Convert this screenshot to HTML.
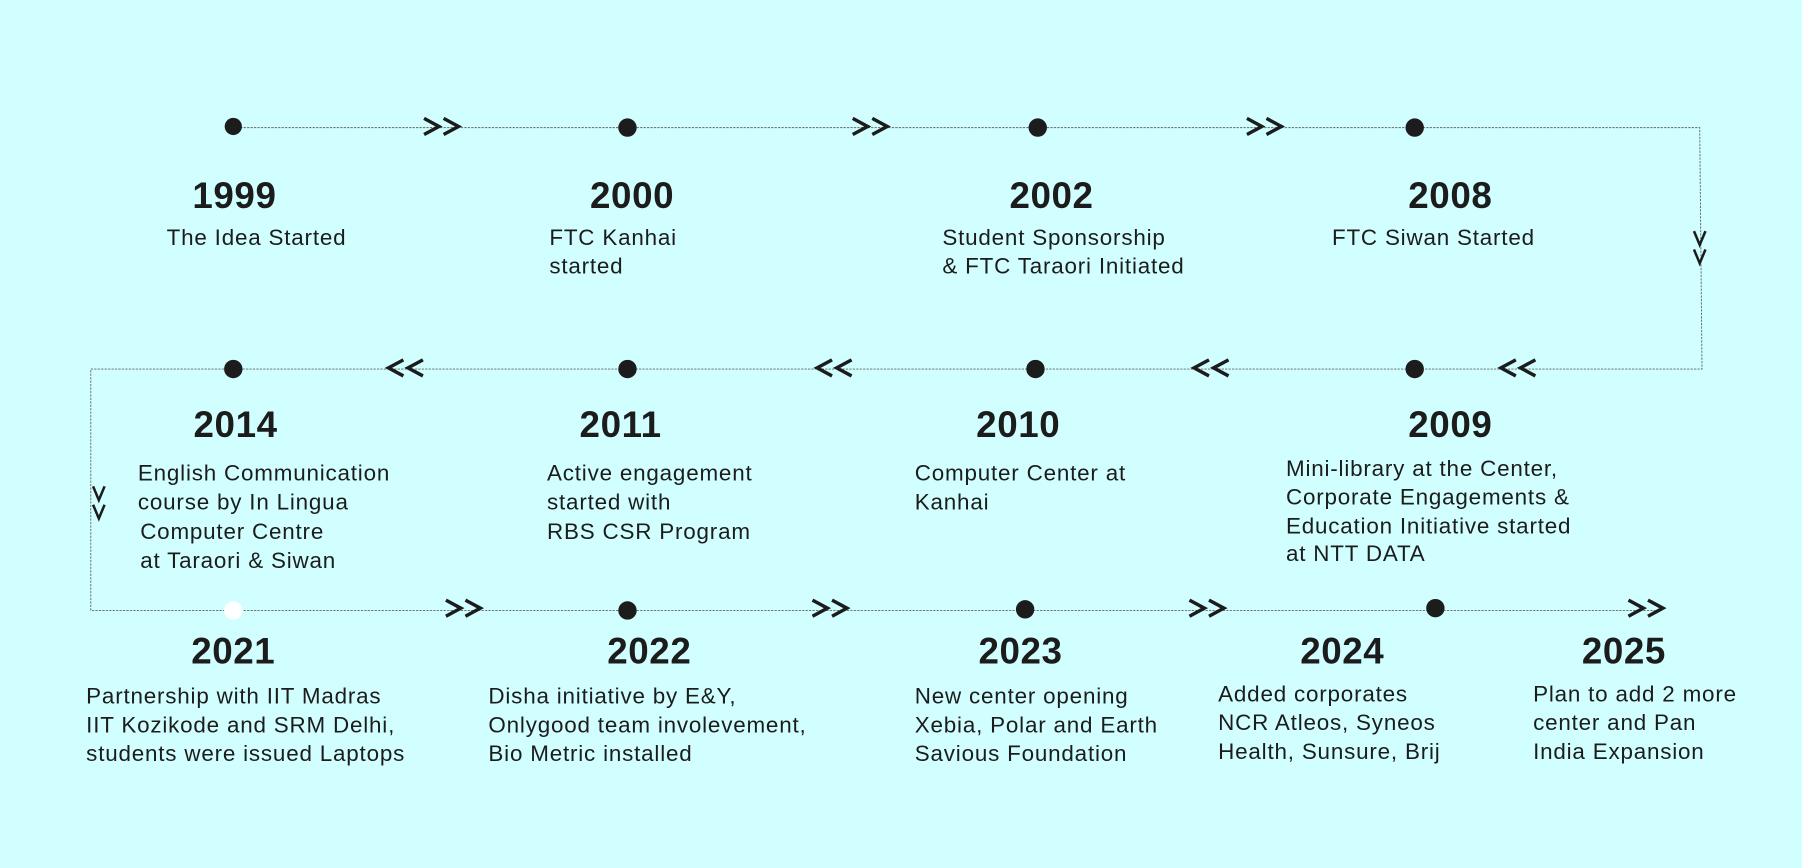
<!DOCTYPE html>
<html><head><meta charset="utf-8"><style>
html,body{margin:0;padding:0;background:#d1ffff;}
svg{display:block;}
.y{font-family:"Liberation Sans",sans-serif;font-weight:bold;font-size:32px;letter-spacing:0.5px;fill:#1c1c1c;text-anchor:middle;}
.d{font-family:"Liberation Sans",sans-serif;font-size:19.5px;letter-spacing:0.7px;fill:#1c1c1c;}
</style></head><body>
<svg width="1802" height="868" viewBox="0 0 1568 755" preserveAspectRatio="none" xmlns="http://www.w3.org/2000/svg">
<defs>
<g id="r"><path d="M-16,-7 L-3,0 L-16,7 M1,-7 L14,0 L1,7" fill="none" stroke="#1c1c1c" stroke-width="3"/></g>
<g id="l"><path d="M16,-7 L3,0 L16,7 M-1,-7 L-14,0 L-1,7" fill="none" stroke="#1c1c1c" stroke-width="3"/></g>
<g id="v"><path d="M-5,-14 L0,-2 L5,-14 M-5,2 L0,14 L5,2" fill="none" stroke="#1c1c1c" stroke-width="2.2"/></g>
</defs>
<rect width="1568" height="755" fill="#d1ffff"/>
<g stroke="#666" stroke-width="0.8" stroke-dasharray="2,1" fill="none">
<polyline points="203,111 1479,111 1481,321 79,321 79,531 1440,531"/>
</g>
<g fill="#1c1c1c">
<circle cx="203" cy="110" r="7.5"/><circle cx="546" cy="111" r="8"/><circle cx="903" cy="111" r="8"/><circle cx="1231" cy="111" r="8"/>
<circle cx="203" cy="321" r="8"/><circle cx="546" cy="321" r="8"/><circle cx="901" cy="321" r="8"/><circle cx="1231" cy="321" r="8"/>
<circle cx="546" cy="531" r="8"/><circle cx="892" cy="530" r="8"/><circle cx="1249" cy="529" r="8"/>
</g>
<circle cx="203" cy="531" r="8" fill="#fff"/>
<use href="#r" x="385" y="110"/><use href="#r" x="758" y="110"/><use href="#r" x="1101" y="110"/>
<use href="#l" x="352" y="320"/><use href="#l" x="725" y="320"/><use href="#l" x="1053" y="320"/><use href="#l" x="1320" y="320"/>
<use href="#r" x="404" y="529"/><use href="#r" x="723" y="529"/><use href="#r" x="1051" y="529"/><use href="#r" x="1433" y="529"/>
<use href="#v" x="1479" y="215"/>
<use href="#v" x="86" y="437"/>
<g class="y">
<text x="204" y="181">1999</text><text x="550" y="181">2000</text><text x="915" y="181">2002</text><text x="1262" y="181">2008</text>
<text x="205" y="380">2014</text><text x="540" y="380">2011</text><text x="886" y="380">2010</text><text x="1262" y="380">2009</text>
<text x="203" y="577">2021</text><text x="565" y="577">2022</text><text x="888" y="577">2023</text><text x="1168" y="577">2024</text><text x="1413" y="577">2025</text>
</g>
<g class="d">
<text x="145" y="213">The Idea Started</text>
<text x="478" y="213">FTC Kanhai</text><text x="478" y="238">started</text>
<text x="820" y="213">Student Sponsorship</text><text x="820" y="238">&amp; FTC Taraori Initiated</text>
<text x="1159" y="213">FTC Siwan Started</text>
<text x="120" y="418">English Communication</text><text x="120" y="443">course by In Lingua</text><text x="122" y="469">Computer Centre</text><text x="122" y="494">at Taraori &amp; Siwan</text>
<text x="476" y="418">Active engagement</text><text x="476" y="443">started with</text><text x="476" y="469">RBS CSR Program</text>
<text x="796" y="418">Computer Center at</text><text x="796" y="443">Kanhai</text>
<text x="1119" y="414">Mini-library at the Center,</text><text x="1119" y="439">Corporate Engagements &amp;</text><text x="1119" y="464">Education Initiative started</text><text x="1119" y="488">at NTT DATA</text>
<text x="75" y="612">Partnership with IIT Madras</text><text x="75" y="637">IIT Kozikode and SRM Delhi,</text><text x="75" y="662">students were issued Laptops</text>
<text x="425" y="612">Disha initiative by E&amp;Y,</text><text x="425" y="637">Onlygood team involevement,</text><text x="425" y="662">Bio Metric installed</text>
<text x="796" y="612">New center opening</text><text x="796" y="637">Xebia,  Polar and Earth</text><text x="796" y="662">Savious Foundation</text>
<text x="1060" y="610">Added corporates</text><text x="1060" y="635">NCR Atleos, Syneos</text><text x="1060" y="660">Health, Sunsure, Brij</text>
<text x="1334" y="610">Plan to add 2 more</text><text x="1334" y="635">center and Pan</text><text x="1334" y="660">India Expansion</text>
</g>
</svg>
</body></html>
